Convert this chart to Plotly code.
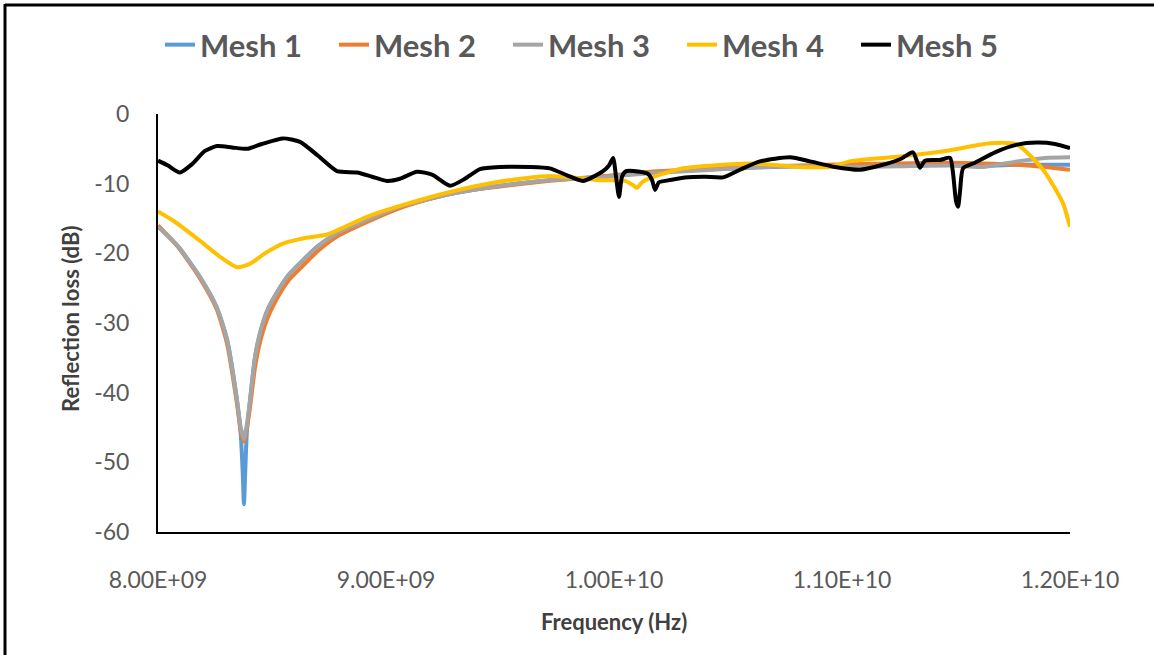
import plotly.graph_objects as go

# Frequency samples (GHz) and reflection loss (dB) for each mesh
mesh1_f = [8.000, 8.088, 8.184, 8.257, 8.303, 8.346, 8.363, 8.371, 8.377, 8.383, 8.390, 8.404,
           8.425, 8.447, 8.478, 8.520, 8.570, 8.623, 8.700, 8.785, 8.917, 9.061, 9.281, 9.500,
           9.719, 9.939, 10.158, 10.377, 10.596, 10.816, 11.035, 11.254, 11.474, 11.618,
           11.768, 11.890, 12.000]
mesh1_db = [-16.1, -19.0, -23.4, -27.7, -32.4, -41.0, -46.0, -51.0, -56.0, -51.0, -45.5, -41.0,
            -35.0, -31.5, -28.3, -25.7, -23.2, -21.4, -19.0, -17.1, -15.2, -13.3, -11.5, -10.3,
            -9.5, -9.0, -8.4, -8.0, -7.7, -7.5, -7.4, -7.3, -7.3, -7.4,
            -7.3, -7.3, -7.3]

mesh2_f = [8.000, 8.088, 8.184, 8.257, 8.303, 8.346, 8.363, 8.377, 8.390, 8.404,
           8.425, 8.447, 8.478, 8.520, 8.570, 8.623, 8.700, 8.785, 8.917, 9.061, 9.281, 9.500,
           9.719, 9.939, 10.158, 10.377, 10.596, 10.816, 11.035, 11.254, 11.474, 11.618,
           11.768, 11.890, 12.000]
mesh2_db = [-16.0, -19.1, -23.6, -28.0, -33.0, -41.5, -45.5, -47.0, -45.0, -42.0,
            -36.5, -32.8, -29.5, -26.6, -24.0, -22.2, -19.7, -17.6, -15.5, -13.5, -11.4, -10.4,
            -9.6, -9.0, -8.3, -7.9, -7.6, -7.4, -7.2, -7.1, -7.0, -7.1,
            -7.3, -7.6, -8.0]

mesh3_f = [8.000, 8.088, 8.184, 8.257, 8.303, 8.346, 8.363, 8.377, 8.390, 8.404,
           8.425, 8.447, 8.478, 8.520, 8.570, 8.623, 8.700, 8.785, 8.917, 9.061, 9.281, 9.500,
           9.719, 9.939, 10.158, 10.377, 10.596, 10.816, 11.035, 11.254, 11.474, 11.618,
           11.768, 11.890, 12.000]
mesh3_db = [-16.2, -19.0, -23.4, -27.7, -32.4, -41.0, -45.0, -46.6, -44.5, -41.0,
            -35.0, -31.5, -28.3, -25.7, -23.2, -21.4, -19.0, -17.1, -15.2, -13.3, -11.5, -10.3,
            -9.5, -9.1, -8.5, -8.1, -7.7, -7.5, -7.6, -7.5, -7.4, -7.6,
            -6.8, -6.3, -6.2]

mesh4_f = [8.000, 8.075, 8.184, 8.272, 8.346, 8.404, 8.469, 8.548, 8.645, 8.741, 8.820,
           8.930, 9.061, 9.281, 9.500, 9.719, 9.939, 10.048, 10.083, 10.101, 10.123, 10.158,
           10.303, 10.596, 10.816, 10.947, 11.035, 11.254, 11.474, 11.649, 11.768, 11.882,
           11.969, 12.000]
mesh4_db = [-14.0, -15.5, -18.2, -20.5, -22.0, -21.5, -20.0, -18.6, -17.8, -17.3, -16.2,
            -14.6, -13.2, -11.2, -9.7, -8.9, -9.5, -9.6, -10.2, -10.6, -9.8, -9.2,
            -7.8, -7.1, -7.6, -7.6, -6.8, -6.1, -5.2, -4.2, -4.4, -8.0,
            -12.8, -16.2]

mesh5_f = [8.000, 8.044, 8.096, 8.149, 8.206, 8.259, 8.325, 8.390, 8.456, 8.548, 8.623,
           8.702, 8.785, 8.873, 8.939, 9.004, 9.061, 9.136, 9.202, 9.281, 9.346, 9.412,
           9.500, 9.632, 9.719, 9.794, 9.864, 9.952, 9.978, 9.996, 10.009, 10.022, 10.035,
           10.053, 10.114, 10.149, 10.167, 10.180, 10.197, 10.224, 10.311, 10.399, 10.478,
           10.553, 10.640, 10.772, 10.860, 10.969, 11.079, 11.167, 11.254, 11.311, 11.329,
           11.342, 11.364, 11.430, 11.474, 11.487, 11.500, 11.509, 11.518, 11.531, 11.583,
           11.671, 11.768, 11.855, 11.934, 12.000]
mesh5_db = [-6.7, -7.4, -8.4, -7.2, -5.3, -4.6, -4.8, -5.0, -4.3, -3.5, -4.0,
            -6.0, -8.2, -8.4, -9.0, -9.6, -9.3, -8.3, -8.7, -10.3, -9.3, -7.9,
            -7.6, -7.6, -7.8, -8.8, -9.6, -8.2, -7.4, -6.3, -9.0, -11.9, -9.0,
            -8.2, -8.3, -8.6, -9.5, -10.9, -9.8, -9.6, -9.1, -9.0, -9.1,
            -8.0, -6.8, -6.2, -6.8, -7.6, -8.0, -7.4, -6.5, -5.5, -6.8,
            -7.7, -6.7, -6.6, -6.3, -8.5, -12.5, -13.3, -11.0, -7.8, -7.0,
            -5.5, -4.4, -4.1, -4.3, -4.9]

series = [
    ("Mesh 1", mesh1_f, mesh1_db, "#5B9BD5"),
    ("Mesh 2", mesh2_f, mesh2_db, "#ED7D31"),
    ("Mesh 3", mesh3_f, mesh3_db, "#A5A5A5"),
    ("Mesh 4", mesh4_f, mesh4_db, "#FFC000"),
    ("Mesh 5", mesh5_f, mesh5_db, "#000000"),
]

x_tick_vals = [8.0e9, 9.0e9, 1.0e10, 1.1e10, 1.2e10]
x_tick_text = ["8.00E+09", "9.00E+09", "1.00E+10", "1.10E+10", "1.20E+10"]
y_tick_vals = [0, -10, -20, -30, -40, -50, -60]
y_tick_text = ["0", "-10", "-20", "-30", "-40", "-50", "-60"]

FONT = "Lato, 'Open Sans', sans-serif"

fig = go.Figure()
for name, f_ghz, db, color in series:
    fig.add_trace(go.Scatter(
        x=[f * 1e9 for f in f_ghz], y=db, name=name, mode="lines",
        line=dict(color=color, width=4, shape="spline", smoothing=0.6),
    ))

W, H = 1154, 655
L, R, T, B = 158, 84, 114, 123
pw, ph = W - L - R, H - T - B


def px_x(px):
    return (px - L) / pw


def px_y(py):
    return (H - B - py) / ph


fig.update_layout(
    width=W, height=H,
    margin=dict(l=L, r=R, t=T, b=B, pad=0),
    paper_bgcolor="white", plot_bgcolor="white",
    font=dict(family=FONT, color="#595959"),
    showlegend=True,
    legend=dict(
        orientation="h", x=px_x(160), xanchor="left", y=px_y(45), yanchor="middle",
        font=dict(family=FONT, size=31, color="#595959", weight="bold"),
        entrywidth=129, entrywidthmode="pixels", itemwidth=30,
        bgcolor="rgba(0,0,0,0)",
    ),
    xaxis=dict(
        range=[8.0e9, 1.2e10], tickvals=x_tick_vals, ticktext=x_tick_text,
        showgrid=False, zeroline=False, showline=True, linecolor="black", linewidth=2,
        ticks="", ticklabelstandoff=26,
        tickfont=dict(family=FONT, size=23, color="#595959"),
    ),
    yaxis=dict(
        range=[-60, 0], tickvals=y_tick_vals, ticktext=y_tick_text,
        showgrid=False, zeroline=False, showline=True, linecolor="black", linewidth=2,
        ticks="", ticklabelstandoff=22,
        tickfont=dict(family=FONT, size=23, color="#595959"),
    ),
    annotations=[
        dict(text="<b>Frequency (Hz)</b>", xref="paper", yref="paper",
             x=px_x(614), y=px_y(621), xanchor="center", yanchor="middle",
             showarrow=False, font=dict(family=FONT, size=22, color="#404040")),
        dict(text="<b>Reflection loss (dB)</b>", xref="paper", yref="paper",
             x=px_x(70), y=px_y(319), xanchor="center", yanchor="middle", textangle=-90,
             showarrow=False, font=dict(family=FONT, size=22, color="#404040")),
    ],
    shapes=[
        dict(type="line", xref="paper", yref="paper", x0=px_x(5), x1=px_x(1160),
             y0=px_y(5), y1=px_y(5), line=dict(color="black", width=3)),
        dict(type="line", xref="paper", yref="paper", x0=px_x(5), x1=px_x(5),
             y0=px_y(4), y1=px_y(660), line=dict(color="black", width=3)),
    ],
)

fig.write_html("out.html")
